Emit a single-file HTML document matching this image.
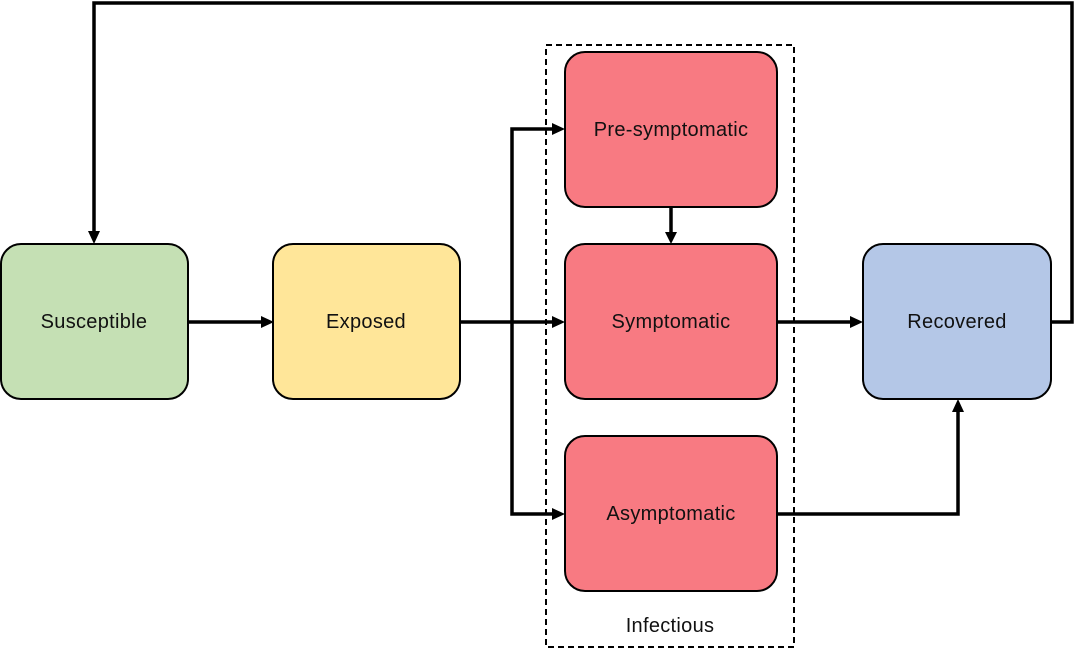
<!DOCTYPE html>
<html>
<head>
<meta charset="utf-8">
<style>
  html, body { margin: 0; padding: 0; background: #ffffff; }
  svg { display: block; }
  text { font-family: "Liberation Sans", "DejaVu Sans", sans-serif; font-size: 20px; letter-spacing: 0.3px; fill: #111; }
</style>
</head>
<body>
<svg width="1076" height="651" viewBox="0 0 1076 651" xmlns="http://www.w3.org/2000/svg">
  <!-- dashed infectious group -->
  <rect x="546" y="45" width="248" height="602" fill="none" stroke="#000" stroke-width="2" stroke-dasharray="6 4"/>

  <!-- connectors -->
  <g fill="none" stroke="#000" stroke-width="3.5">
    <polyline points="1052,322 1072,322 1072,3 94,3 94,232"/>
    <line x1="188" y1="322" x2="262" y2="322"/>
    <line x1="460" y1="322" x2="554" y2="322"/>
    <polyline points="512,322 512,129 554,129"/>
    <polyline points="512,322 512,514 554,514"/>
    <line x1="671" y1="207" x2="671" y2="233"/>
    <line x1="777" y1="322" x2="852" y2="322"/>
    <polyline points="777,514 958,514 958,410"/>
  </g>
  <!-- arrowheads -->
  <g fill="#000">
    <polygon points="88,231 100,231 94,244"/>
    <polygon points="261,316 261,328 274,322"/>
    <polygon points="552,316 552,328 565,322"/>
    <polygon points="552,123 552,135 565,129"/>
    <polygon points="552,508 552,520 565,514"/>
    <polygon points="665,232 677,232 671,244"/>
    <polygon points="850,316 850,328 863,322"/>
    <polygon points="952,412 964,412 958,399"/>
  </g>

  <!-- nodes -->
  <g stroke="#000" stroke-width="2">
    <rect x="1" y="244" width="187" height="155" rx="20" ry="20" fill="#c5e0b4"/>
    <rect x="273" y="244" width="187" height="155" rx="20" ry="20" fill="#ffe699"/>
    <rect x="565" y="52" width="212" height="155" rx="20" ry="20" fill="#f87a82"/>
    <rect x="565" y="244" width="212" height="155" rx="20" ry="20" fill="#f87a82"/>
    <rect x="565" y="436" width="212" height="155" rx="20" ry="20" fill="#f87a82"/>
    <rect x="863" y="244" width="188" height="155" rx="20" ry="20" fill="#b4c7e7"/>
  </g>

  <!-- labels -->
  <g text-anchor="middle">
    <text x="94" y="328">Susceptible</text>
    <text x="366" y="328">Exposed</text>
    <text x="671" y="136">Pre-symptomatic</text>
    <text x="671" y="328">Symptomatic</text>
    <text x="671" y="520">Asymptomatic</text>
    <text x="957" y="328">Recovered</text>
    <text x="670" y="632">Infectious</text>
  </g>
</svg>
</body>
</html>
